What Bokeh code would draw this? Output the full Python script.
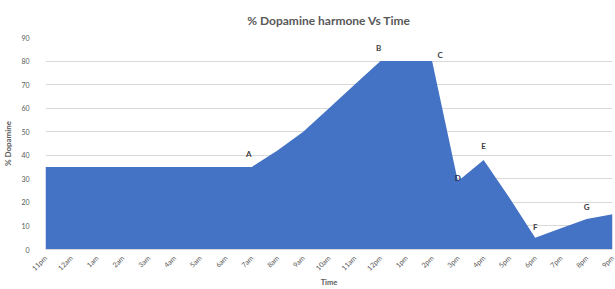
from bokeh.plotting import figure
from bokeh.models import ColumnDataSource, FixedTicker, Range1d
from bokeh.core.properties import value
from bokeh.embed import file_html
from bokeh.resources import INLINE
import math

# ---- data ----
time_labels = ["11pm", "12am", "1am", "2am", "3am", "4am", "5am", "6am", "7am", "8am",
               "9am", "10am", "11am", "12pm", "1pm", "2pm", "3pm", "4pm", "5pm", "6pm",
               "7pm", "8pm", "9pm"]
dopamine = [35, 35, 35, 35, 35, 35, 35, 35, 35, 42,
            50, 60, 70, 80, 80, 80, 29, 38, 22, 5,
            9, 13, 15]
point_names = ["A", "B", "C", "D", "E", "F", "G"]
point_index = [8, 13, 15, 16, 17, 19, 21]
y_ticks = [0, 10, 20, 30, 40, 50, 60, 70, 80, 90]

# ---- styles ----
FONT = "Lato"
GRAY = "#595959"
BLUE = "#4472C4"
label_dx = [-3, -2, 8, 0, 0, 0, 0]
label_dy = [8, 8, 1, -2, 9, 6, 7]
label_colors = ["#404040", "#404040", "#404040", "#1f2f5a", "#404040", "#404040", "#404040"]

xs = list(range(len(time_labels)))

p = figure(width=615, height=289, output_backend="svg", toolbar_location=None,
           x_range=Range1d(0, len(time_labels) - 1), y_range=Range1d(0, 90),
           title="% Dopamine harmone Vs Time",
           min_border_left=45, min_border_right=3, min_border_top=37, min_border_bottom=39)

p.title.align = "center"
p.title.text_font = FONT
p.title.text_font_size = "12px"
p.title.text_font_style = "bold"
p.title.text_color = GRAY
p.title.offset = 0
p.title.standoff = 20
p.outline_line_color = None
p.background_fill_color = "white"
p.border_fill_color = "white"

p.varea(x=xs, y1=[0] * len(xs), y2=dopamine, fill_color=BLUE)

src = ColumnDataSource(dict(
    x=point_index,
    y=[dopamine[i] for i in point_index],
    t=point_names,
    dx=label_dx,
    dy=[-d for d in label_dy],
    c=label_colors,
))
p.text(x="x", y="y", text="t", x_offset="dx", y_offset="dy", source=src,
       text_font=value(FONT), text_font_size="8px", text_font_style="bold",
       text_color="c", text_align="center", text_baseline="bottom")

p.xaxis.ticker = FixedTicker(ticks=xs)
p.xaxis.major_label_overrides = {i: lab for i, lab in enumerate(time_labels)}
p.xaxis.major_label_orientation = math.pi / 4
p.xaxis.major_label_text_font = FONT
p.xaxis.major_label_text_font_size = "7px"
p.xaxis.major_label_text_color = GRAY
p.xaxis.major_label_standoff = 1
p.xaxis.axis_line_color = "#d9d9d9"
p.xaxis.major_tick_line_color = None
p.xaxis.minor_tick_line_color = None
p.xaxis.axis_label = "Time"
p.xaxis.axis_label_text_font = FONT
p.xaxis.axis_label_text_font_size = "7.5px"
p.xaxis.axis_label_text_font_style = "bold"
p.xaxis.axis_label_text_color = GRAY
p.xaxis.axis_label_standoff = 0

p.yaxis.ticker = FixedTicker(ticks=y_ticks)
p.yaxis.major_label_text_font = FONT
p.yaxis.major_label_text_font_size = "7px"
p.yaxis.major_label_text_color = GRAY
p.yaxis.major_label_standoff = 10
p.yaxis.axis_line_color = None
p.yaxis.major_tick_line_color = None
p.yaxis.minor_tick_line_color = None
p.yaxis.axis_label = "% Dopamine"
p.yaxis.axis_label_text_font = FONT
p.yaxis.axis_label_text_font_size = "8px"
p.yaxis.axis_label_text_font_style = "bold"
p.yaxis.axis_label_text_color = GRAY
p.yaxis.axis_label_standoff = 5

p.xgrid.grid_line_color = None
p.ygrid.grid_line_color = "#d9d9d9"

open("out.html", "w").write(file_html(p, INLINE))
